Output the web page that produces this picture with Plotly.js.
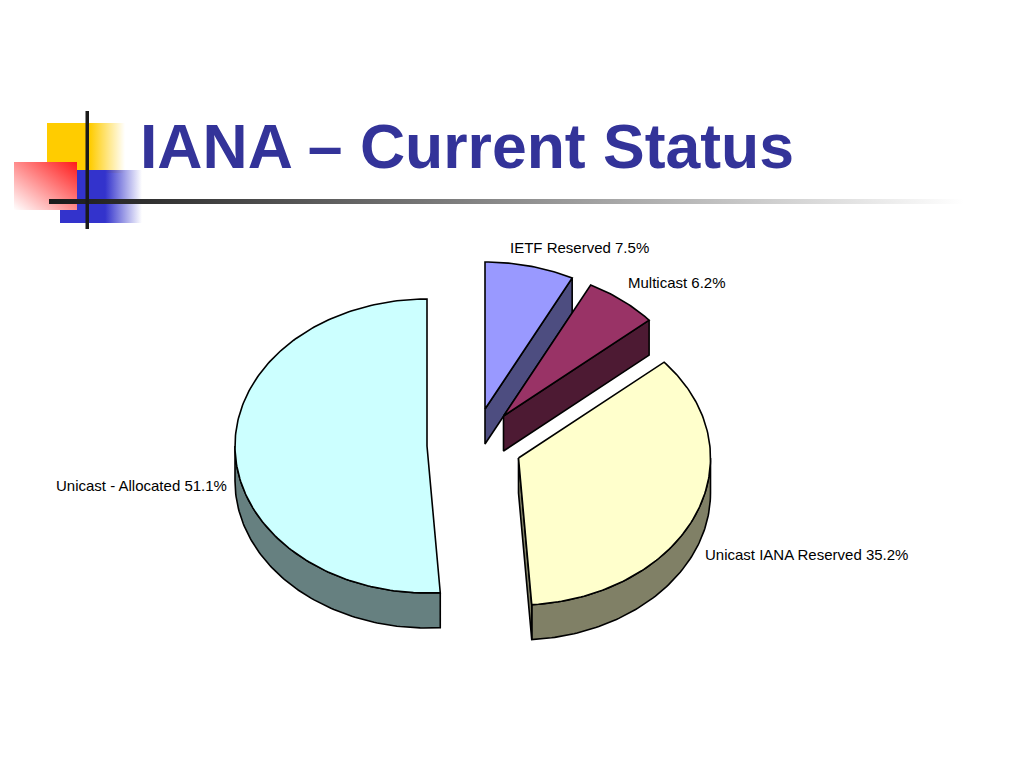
<!DOCTYPE html>
<html>
<head>
<meta charset="utf-8">
<script src="https://cdn.plot.ly/plotly-3.0.1.min.js"></script>
<style>html,body{margin:0;padding:0;background:#fff;overflow:hidden}</style>
</head>
<body>
<div id="chart" style="width:1024px;height:768px"></div>
<script>
// Chart data, clockwise from 12 o'clock
const categories = ["IETF Reserved", "Multicast", "Unicast IANA Reserved", "Unicast - Allocated"];
const values = [7.5, 6.2, 35.2, 51.1];

// Styles and layout
const topColors  = ["#9999FF", "#993366", "#FFFFCC", "#CCFFFF"];
const sideColors = ["#4D4D80", "#4D1A33", "#808066", "#668080"];
const centerX = [485, 503.5, 518.5, 427];
const centerY = [409, 416, 458, 446];
const labelX = [508, 626, 703, 54];
const labelY = [247, 282, 554, 485];
const drawOrder = [3, 0, 1, 2];
const radiusX = 192, radiusY = 147, depth = 35;

const deco = `<svg xmlns="http://www.w3.org/2000/svg" width="1024" height="768" viewBox="0 0 1024 768">
<defs>
<linearGradient id="y" x1="0" x2="1" y1="0" y2="0"><stop offset="0.55" stop-color="#FFCC00"/><stop offset="1" stop-color="#FFCC00" stop-opacity="0"/></linearGradient>
<linearGradient id="b" x1="0" x2="1" y1="0" y2="0"><stop offset="0.55" stop-color="#3333CC"/><stop offset="1" stop-color="#3333CC" stop-opacity="0"/></linearGradient>
<linearGradient id="r" x1="1" x2="0" y1="0" y2="1"><stop offset="0" stop-color="#FF1A1A"/><stop offset="1" stop-color="#FFFFFF"/></linearGradient>
<linearGradient id="k" x1="0" x2="1" y1="0" y2="0"><stop offset="0" stop-color="#1A1A1A"/><stop offset="0.12" stop-color="#333333"/><stop offset="1" stop-color="#FFFFFF"/></linearGradient>
</defs>
<rect x="47" y="123" width="78" height="50" fill="url(#y)"/>
<rect x="60" y="170" width="82" height="53" fill="url(#b)"/>
<rect x="14" y="162" width="63" height="48" fill="url(#r)"/>
<rect x="49" y="199" width="915" height="5" fill="url(#k)"/>
<rect x="85.5" y="111" width="3.5" height="118" fill="#1A1A1A"/>
</svg>`;

function pt(i, deg, dy) {
  const t = deg * Math.PI / 180;
  return [centerX[i] + radiusX * Math.sin(t), centerY[i] - radiusY * Math.cos(t) + dy];
}
function arc(i, a0, a1, dy) {
  const n = Math.max(2, Math.ceil(Math.abs(a1 - a0)));
  const out = [];
  for (let k = 0; k <= n; k++) out.push(pt(i, a0 + (a1 - a0) * k / n, dy));
  return out;
}
function poly(points, fill) {
  const closed = points.concat([points[0]]);
  return {
    type: "scatter", mode: "lines", fill: "toself", fillcolor: fill,
    x: closed.map(p => p[0]), y: closed.map(p => p[1]),
    line: {color: "#000000", width: 1.6, shape: "linear"},
    hoverinfo: "skip", showlegend: false
  };
}

const total = values.reduce((s, v) => s + v, 0);
const starts = [];
let acc = 0;
values.forEach(v => { starts.push(acc); acc += v; });

const traces = [];
drawOrder.forEach(i => {
  const a0 = starts[i] / total * 360;
  const a1 = (starts[i] + values[i]) / total * 360;
  const center = [centerX[i], centerY[i]];
  const lo = Math.max(a0, 90), hi = Math.min(a1, 270);
  if (hi > lo) {
    traces.push(poly(arc(i, lo, hi, 0).concat(arc(i, hi, lo, depth)), sideColors[i]));
  }
  if (a1 < 180) {
    const e0 = pt(i, a1, 0), e1 = pt(i, a1, depth);
    traces.push(poly([center, e0, e1, [center[0], center[1] + depth]], sideColors[i]));
  }
  traces.push(poly([center].concat(arc(i, a0, a1, 0)), topColors[i]));
});

const annotations = categories.map((c, i) => ({
  x: labelX[i], y: labelY[i], xref: "x", yref: "y", xanchor: "left", yanchor: "middle",
  text: c + " " + values[i].toFixed(1) + "%", showarrow: false,
  font: {family: "Liberation Sans", size: 15, color: "#000000"}
}));

const axis = {visible: false, fixedrange: true, showgrid: false, zeroline: false};
const layout = {
  width: 1024, height: 768,
  margin: {l: 0, r: 0, t: 0, b: 0},
  paper_bgcolor: "#FFFFFF", plot_bgcolor: "rgba(0,0,0,0)",
  showlegend: false,
  title: {
    text: "IANA – Current Status",
    x: 140 / 1024, xref: "paper", xanchor: "left",
    y: 1 - 146 / 768, yref: "paper", yanchor: "middle",
    font: {family: "Liberation Sans", size: 62.5, color: "#333399", weight: 700}
  },
  xaxis: Object.assign({range: [0, 1024]}, axis),
  yaxis: Object.assign({range: [768, 0]}, axis),
  annotations: annotations,
  images: [{
    source: "data:image/svg+xml;charset=utf-8," + encodeURIComponent(deco),
    xref: "paper", yref: "paper", x: 0, y: 1, sizex: 1, sizey: 1,
    xanchor: "left", yanchor: "top", sizing: "stretch", layer: "below"
  }]
};
Plotly.newPlot("chart", traces, layout, {displayModeBar: false, staticPlot: true});
</script>
</body>
</html>
